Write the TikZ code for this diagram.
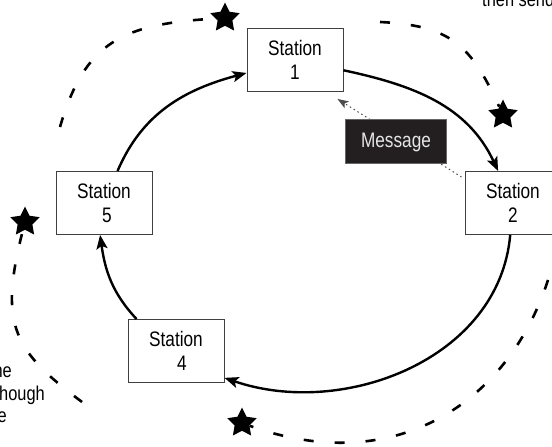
\documentclass[tikz,border=0pt]{standalone}
\usepackage{fontspec}
\setmainfont{Liberation Sans}[FakeStretch=0.82]
\usetikzlibrary{shapes.geometric,arrows.meta,calc}
\definecolor{msgfill}{HTML}{231F20}
\definecolor{msgtext}{HTML}{E6E6E6}
\begin{document}
\begin{tikzpicture}[x=1pt,y=1pt,
  station/.style={draw=black!75, line width=0.9pt, fill=white, minimum width=96pt, minimum height=63pt, align=center, font=\fontsize{21}{24}\selectfont, inner sep=0pt},
  ring/.style={line width=2.4pt, -{Stealth[length=14pt,width=11pt,inset=3pt]}},
  outer/.style={line width=2.6pt, dash pattern=on 10pt off 21pt},
  starmark/.style={star, star points=5, star point ratio=2.0, fill=black, minimum size=31pt, inner sep=0pt},
  msg/.style={draw=black!60, line width=1pt, fill=msgfill, text=msgtext, minimum width=101pt, minimum height=44pt, font=\fontsize{21}{24}\selectfont, inner sep=0pt},
  dotline/.style={line width=1pt, black!70, dash pattern=on 1.5pt off 3pt, -{Stealth[length=11pt,width=8pt,inset=2.5pt]}},
  cut/.style={font=\fontsize{20}{23}\selectfont, inner sep=0pt}
]
\useasboundingbox (0,0) rectangle (552,447);
\clip (0,0) rectangle (552,447);

% stations
\node[station] (s1) at (295,387) {Station\\1};
\node[station] (s2) at (513,244) {Station\\2};
\node[station] (s4) at (176,96) {Station\\\hspace*{12pt}4};
\node[station] (s5) at (104,244) {Station\\\hspace*{6pt}5};

% ring connectors
\draw[ring] (s5) to[out=67,in=195] (s1);
\draw[ring] (s1) to[out=-12,in=115] (s2);
\draw[ring] (s2) to[out=-95,in=-19] (s4.-29);
\draw[ring] (s4.141) to[out=133,in=-82] (s5.263);

% message path
\coordinate (dA) at ($(s2.north west)+(-3,-6)$);
\coordinate (dB) at ($(s1.south east)+(-6,-7)$);
\draw[dotline] (dA) -- (dB);
\node[msg] (msg) at (396,305) {Message};

% stars and outer dashed arcs
\node[starmark] (starA) at (225,429) {};
\node[starmark] (starB) at (503,332) {};
\node[starmark] (starC) at (242,24) {};
\node[starmark] (starD) at (25,225) {};
\coordinate (a0) at (60,320);
\coordinate (b0) at (380,425);
\coordinate (c0) at (548,167);
\coordinate (d0) at (82,45);
\draw[outer] (a0) .. controls (85,406) and (123,423) .. (starA);
\draw[outer] (b0) .. controls (450,421.5) and (470.5,402.9) .. (starB);
\draw[outer] (c0) .. controls (508,43) and (394,-31) .. (starC);
\draw[outer] (d0) .. controls (14,96) and (-1.6,121) .. (starD);

% cut-off texts
\node[cut, anchor=base west] (t1) at (482,440) {then send};
\node[cut, anchor=base east] (t2) at (12,69) {he};
\node[cut, anchor=base east] (t3) at (45,46) {hough};
\node[cut, anchor=base east] (t4) at (7,24) {e};
\end{tikzpicture}
\end{document}
